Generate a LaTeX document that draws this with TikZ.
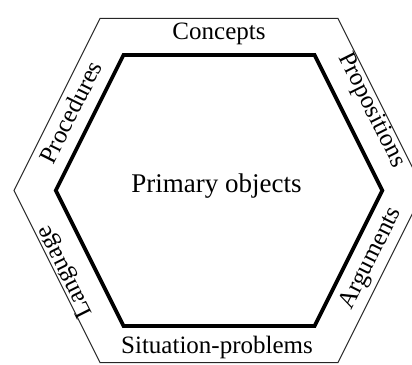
\documentclass[tikz,border=0pt]{standalone}
\usepackage{fontspec}
\setmainfont{Liberation Serif}
\usetikzlibrary{calc}
\begin{document}
\begin{tikzpicture}[x=1pt,y=1pt,
  rim/.style={draw=black!85, line width=1pt, line join=miter},
  core/.style={draw=black, line width=3.8pt, line join=miter},
  bandlabel/.style={inner sep=0pt, text height=0.5em, text depth=0pt,
    font=\fontsize{25}{30}\selectfont},
  centrelabel/.style={inner sep=0pt, text height=0.5em, text depth=0pt,
    font=\fontsize{27}{32}\selectfont},
]
\useasboundingbox (0,0) rectangle (412,364);
\clip (0,0) rectangle (412,364);
\coordinate (c) at (219,173.5);
% outer hexagon, thin
\coordinate (o1) at ($(c)+(-119,172)$);
\coordinate (o2) at ($(c)+(119,172)$);
\coordinate (o3) at ($(c)+(205,0)$);
\coordinate (o4) at ($(c)+(119,-172)$);
\coordinate (o5) at ($(c)+(-119,-172)$);
\coordinate (o6) at ($(c)+(-205,0)$);
% inner hexagon, heavy
\coordinate (i1) at ($(c)+(-95.5,135.5)$);
\coordinate (i2) at ($(c)+(95.5,135.5)$);
\coordinate (i3) at ($(c)+(163.25,0)$);
\coordinate (i4) at ($(c)+(95.5,-135.5)$);
\coordinate (i5) at ($(c)+(-95.5,-135.5)$);
\coordinate (i6) at ($(c)+(-163.25,0)$);
\draw[rim] (o1)--(o2)--(o3)--(o4)--(o5)--(o6)--cycle;
\draw[core] (i1)--(i2)--(i3)--(i4)--(i5)--(i6)--cycle;
% midlines of the slanted bands
\coordinate (mUL) at ($($(o1)!.5!(o6)$)!.5!($(i1)!.5!(i6)$)$);
\coordinate (mUR) at ($($(o2)!.5!(o3)$)!.5!($(i2)!.5!(i3)$)$);
\coordinate (mLR) at ($($(o3)!.5!(o4)$)!.5!($(i3)!.5!(i4)$)$);
\coordinate (mLL) at ($($(o5)!.5!(o6)$)!.5!($(i5)!.5!(i6)$)$);
% labels
\node[centrelabel] (primary) at ($(c)+(-2.5,0.25)$) {Primary objects};
\node[bandlabel] (concepts) at ($(c)+(0,153.75)$) {Concepts};
\node[bandlabel] (situations) at ($(c)+(-2,-160.25)$) {Situation-problems};
\node[bandlabel, rotate=63.435] (procedures) at ($(mUL)+(2.7,-1.3)$) {Procedures};
\node[bandlabel, rotate=-63.435] (propositions) at ($(mUR)+(3.6,1.8)$) {Propositions};
\node[bandlabel, rotate=63.435] (arguments) at ($(mLR)+(9.4,7.6)$) {Arguments};
\node[bandlabel, rotate=116.565] (language) at ($(mLL)+(-5.4,-2.7)$) {Language};
\end{tikzpicture}
\end{document}
